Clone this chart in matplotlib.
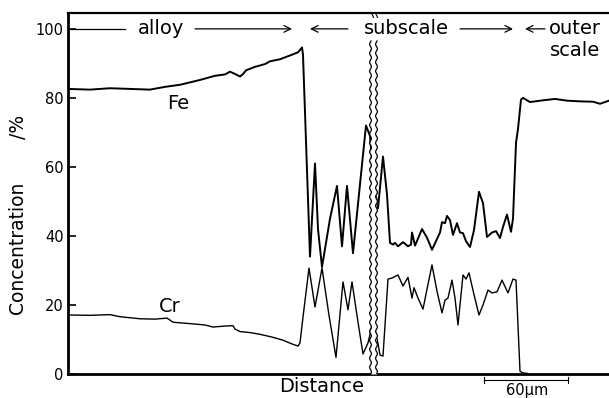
import numpy as np
import matplotlib
matplotlib.use("Agg")
import matplotlib.pyplot as plt

# ---- data (distance in arbitrary units, concentration in %) ----
fe_x = [0, 22, 42, 62, 82, 97, 112, 132, 147, 157, 162, 168, 172, 175, 178, 187, 197, 202,
        212, 222, 230, 234, 235, 242, 247, 250, 254, 262, 269, 274, 279, 285, 292, 298, 302,
        306, 310, 315, 319, 322, 325, 327, 330, 335, 340, 343, 344, 347, 354, 359, 364, 372,
        374, 377, 379, 382, 385, 389, 392, 395, 398, 402, 406, 411, 415, 419, 424, 428, 432,
        435, 439, 443, 445, 448, 450, 453, 455, 462, 475, 487, 499, 512, 525, 532, 535, 541]
fe_y = [82.6, 82.4, 82.8, 82.6, 82.4, 83.2, 83.8, 85.2, 86.4, 86.8, 87.6, 86.8, 86.2, 86.9,
        88.0, 89.0, 89.8, 90.6, 91.2, 92.3, 93.2, 94.6, 92.5, 34, 61, 42, 31, 45, 54.5, 37,
        54.5, 35, 55, 72, 69, 55, 48, 63, 52, 38, 37.5, 38, 37, 38.2, 37, 37.5, 41, 37.2, 42,
        39.5, 36, 41, 44, 43.7, 45.8, 44.6, 40.3, 43.7, 41, 40.8, 38.5, 36.8, 41.7, 52.8,
        49.5, 39.7, 41, 41.4, 39.4, 42.6, 46.2, 41.2, 45, 67, 71, 79.5, 80, 78.8, 79.3, 79.7,
        79.2, 79.0, 78.9, 78.3, 78.6, 79.2]

cr_x = [0, 22, 42, 52, 72, 87, 99, 105, 122, 137, 145, 157, 165, 167, 172, 182, 192, 204,
        215, 224, 230, 232, 235, 241, 247, 254, 261, 268, 275, 280, 284, 290, 295, 300, 304,
        308, 312, 315, 320, 324, 330, 335, 340, 344, 346, 350, 355, 360, 364, 369, 374, 377,
        380, 384, 387, 390, 395, 398, 401, 406, 411, 415, 420, 424, 429, 434, 440, 445, 448,
        452, 455, 459]
cr_y = [17.1, 17.0, 17.2, 16.6, 16.0, 15.9, 16.2, 15.0, 14.6, 14.2, 13.6, 13.9, 14.0, 13.0,
        12.3, 12.0, 11.5, 10.7, 9.8, 8.7, 8.1, 9.0, 16.5, 30.7, 19.4, 30.7, 17, 4.8, 26.7,
        18.6, 26.7, 15, 5.8, 9.0, 14, 12, 5.5, 5.2, 27.5, 27.8, 28.7, 25.5, 28, 22, 25, 22,
        18.8, 26, 31.6, 24, 17.7, 21.4, 22, 27.2, 22, 14.2, 28.7, 27.5, 29.3, 23, 17.1, 20,
        24.3, 23.5, 23.8, 27.2, 23.5, 27.5, 27.2, 0.8, 0.3, 0.2]

y_ticks = [0, 20, 40, 60, 80, 100]

W, H = 609, 398
fig = plt.figure(figsize=(W / 100, H / 100), dpi=100)
plt.rcParams['font.family'] = ['DejaVu Sans']
ax = fig.add_axes([68 / W, 1 - 374 / H, 1 - 68 / W, (374 - 13) / H])
ax.set_xlim(0, 541)
ax.set_ylim(0, 104.6)

ax.plot(fe_x, fe_y, color='black', lw=1.4, zorder=2)
ax.plot(cr_x, cr_y, color='black', lw=1.0, zorder=2)

# axis break (double wavy line)
yy = np.linspace(0, 96.5, 600)
wave = 0.9 * np.sin(2 * np.pi * yy / 2.6)
xa, xb = 302.5 + wave, 308.5 + wave
ax.fill_betweenx(yy, xa, xb, color='white', zorder=3, lw=0)
ax.plot(xa, yy, color='black', lw=0.9, zorder=4)
ax.plot(xb, yy, color='black', lw=0.9, zorder=4)
ax.plot([303.5, 305.5], [104.6, 103.3], color='black', lw=0.8, zorder=4)
ax.plot([307.5, 309.5], [104.6, 103.3], color='black', lw=0.8, zorder=4)

# spines and ticks
ax.spines['right'].set_visible(False)
ax.spines['left'].set_linewidth(2.0)
ax.spines['bottom'].set_linewidth(2.0)
ax.spines['top'].set_linewidth(1.6)
ax.spines['top'].set_zorder(5)
ax.set_xticks([])
ax.set_yticks(y_ticks)
ax.tick_params(axis='y', direction='in', length=6, width=1.2, pad=3, labelsize=10.5)

# region annotations
fs = 14
ty = 100
arrow_kw = dict(arrowstyle='->', lw=0.9, color='black', shrinkA=0, shrinkB=0,
                mutation_scale=12)
ax.plot([1, 57], [ty, ty], color='black', lw=0.9)
ax.text(93, ty, 'alloy', ha='center', va='center', fontsize=fs)
ax.annotate('', xy=(224, ty), xytext=(127, ty), arrowprops=arrow_kw)
ax.annotate('', xy=(242, ty), xytext=(280, ty), arrowprops=arrow_kw)
ax.text(338, ty, 'subscale', ha='center', va='center', fontsize=fs, zorder=6,
        bbox=dict(facecolor='white', edgecolor='none', pad=0.5))
ax.annotate('', xy=(445, ty), xytext=(392, ty), arrowprops=arrow_kw)
ax.annotate('', xy=(457, ty), xytext=(477, ty), arrowprops=arrow_kw)
ax.text(507, ty, 'outer', ha='center', va='center', fontsize=fs)
ax.text(507, 93.6, 'scale', ha='center', va='center', fontsize=fs)

ax.text(110, 78.3, 'Fe', ha='center', va='center', fontsize=fs)
ax.text(102, 19.6, 'Cr', ha='center', va='center', fontsize=fs)

# axis labels
fig.text(18 / W, 1 - 248 / H, 'Concentration', rotation=90, ha='center', va='center',
         fontsize=13.5)
fig.text(18 / W, 1 - 127 / H, '/%', rotation=90, ha='center', va='center', fontsize=13.5)
fig.text(322 / W, 1 - 386 / H, 'Distance', ha='center', va='center', fontsize=fs)

# scale bar
trans = ax.get_xaxis_transform()
yb = -6 / 361
ax.plot([416, 500], [yb, yb], color='black', lw=0.8, transform=trans, clip_on=False)
for xe in (416, 500):
    ax.plot([xe, xe], [yb - 0.009, yb + 0.009], color='black', lw=0.8, transform=trans,
            clip_on=False)
fig.text(527 / W, 1 - 391 / H, '60\u00b5m', ha='center', va='center', fontsize=10.5)

fig.savefig('out.png', dpi=100)
